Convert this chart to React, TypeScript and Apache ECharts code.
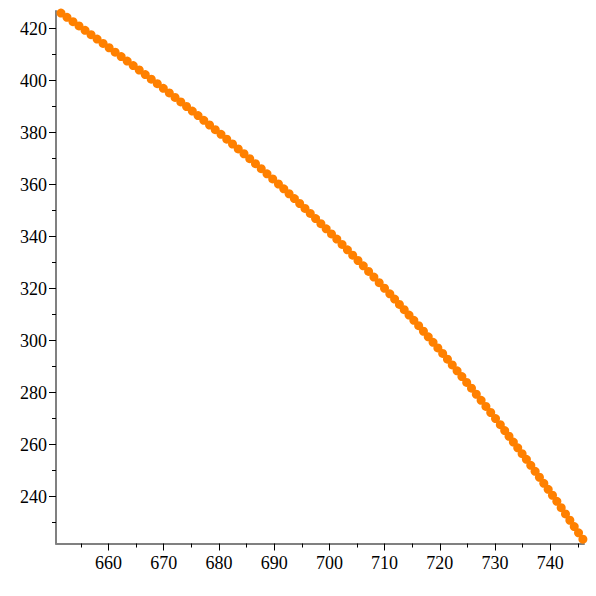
import React, { useEffect, useRef } from 'react';
import * as echarts from 'echarts';

const xValues = [
  651.40, 652.49, 653.58, 654.67, 655.76, 656.85, 657.94, 659.03, 660.12, 661.21,
  662.30, 663.39, 664.48, 665.57, 666.66, 667.75, 668.84, 669.93, 671.02, 672.06,
  673.10, 674.14, 675.18, 676.22, 677.26, 678.30, 679.34, 680.38, 681.42, 682.46,
  683.50, 684.54, 685.58, 686.62, 687.66, 688.70, 689.74, 690.78, 691.74, 692.70,
  693.66, 694.62, 695.58, 696.54, 697.50, 698.46, 699.42, 700.38, 701.34, 702.30,
  703.26, 704.22, 705.18, 706.14, 707.10, 708.06, 709.02, 709.98, 710.94, 711.81,
  712.68, 713.55, 714.42, 715.29, 716.16, 717.03, 717.90, 718.77, 719.64, 720.51,
  721.38, 722.25, 723.12, 723.99, 724.86, 725.73, 726.60, 727.47, 728.34, 729.21,
  730.08, 730.95, 731.74, 732.52, 733.31, 734.10, 734.89, 735.67, 736.46, 737.25,
  738.03, 738.82, 739.61, 740.39, 741.18, 741.97, 742.75, 743.54, 744.33, 745.11,
  745.90,
];

const yValues = [
  426.00, 424.35, 422.70, 421.04, 419.38, 417.70, 416.02, 414.34, 412.67, 410.98,
  409.26, 407.54, 405.82, 404.11, 402.36, 400.59, 398.83, 397.06, 395.29, 393.55,
  391.81, 390.07, 388.33, 386.57, 384.77, 382.96, 381.16, 379.35, 377.52, 375.64,
  373.77, 371.89, 370.02, 368.09, 366.14, 364.18, 362.23, 360.27, 358.41, 356.52,
  354.64, 352.76, 350.88, 348.95, 346.98, 345.01, 343.04, 341.07, 339.07, 337.01,
  334.96, 332.90, 330.85, 328.78, 326.63, 324.47, 322.32, 320.17, 318.02, 315.99,
  313.95, 311.91, 309.87, 307.83, 305.77, 303.63, 301.50, 299.36, 297.22, 295.09,
  292.91, 290.67, 288.43, 286.20, 283.96, 281.72, 279.41, 277.07, 274.72, 272.38,
  270.03, 267.69, 265.45, 263.25, 261.02, 258.79, 256.56, 254.36, 252.08, 249.77,
  247.48, 245.16, 242.85, 240.56, 238.22, 235.78, 233.38, 230.94, 228.50, 226.10,
  223.66,
];

const xTickValues = [660, 670, 680, 690, 700, 710, 720, 730, 740];
const xMinorTickValues = [655, 665, 675, 685, 695, 705, 715, 725, 735, 745];
const yTickValues = [240, 260, 280, 300, 320, 340, 360, 380, 400, 420];
const yMinorTickValues = [230, 250, 270, 290, 310, 330, 350, 370, 390, 410];

const X_MIN = 650.5;
const X_MAX = 746.1;
const Y_MIN = 222.0;
const Y_MAX = 426.8;

export default function App() {
  const ref = useRef<HTMLDivElement>(null);

  useEffect(() => {
    if (!ref.current) return;
    const chart = echarts.init(ref.current, null, { renderer: 'svg' });
    const font = '"Liberation Serif", "Times New Roman", serif';
    const axisLineStyle = { color: '#808080', width: 2 };
    const tickStyle = { color: '#000000', width: 1 };
    const labelStyle = { color: '#000000', fontFamily: font, fontSize: 18 };

    const data = xValues.map((x, i) => [x, yValues[i]]);

    chart.setOption({
      animation: false,
      backgroundColor: '#ffffff',
      grid: { left: 56, top: 11, right: 12, bottom: 52.5, containLabel: false },
      xAxis: [
        {
          type: 'value', min: X_MIN, max: X_MAX, position: 'bottom',
          axisLine: { show: true, onZero: false, lineStyle: axisLineStyle },
          axisTick: { show: true, inside: false, length: 7, customValues: xTickValues, lineStyle: tickStyle },
          axisLabel: { show: true, margin: 10, customValues: xTickValues, ...labelStyle },
          splitLine: { show: false },
        },
        {
          type: 'value', min: X_MIN, max: X_MAX, position: 'bottom',
          axisLine: { show: false, onZero: false },
          axisTick: { show: true, inside: false, length: 4, customValues: xMinorTickValues, lineStyle: tickStyle },
          axisLabel: { show: false },
          splitLine: { show: false },
        },
      ],
      yAxis: [
        {
          type: 'value', min: Y_MIN, max: Y_MAX, position: 'left',
          axisLine: { show: true, onZero: false, lineStyle: axisLineStyle },
          axisTick: { show: true, inside: false, length: 7, customValues: yTickValues, lineStyle: tickStyle },
          axisLabel: { show: true, margin: 9, customValues: yTickValues, ...labelStyle },
          splitLine: { show: false },
        },
        {
          type: 'value', min: Y_MIN, max: Y_MAX, position: 'left',
          axisLine: { show: false, onZero: false },
          axisTick: { show: true, inside: false, length: 4, customValues: yMinorTickValues, lineStyle: tickStyle },
          axisLabel: { show: false },
          splitLine: { show: false },
        },
      ],
      series: [
        {
          type: 'scatter',
          xAxisIndex: 0,
          yAxisIndex: 0,
          data,
          symbol: 'circle',
          symbolSize: 9,
          clip: false,
          itemStyle: { color: '#ff8000', opacity: 1 },
          z: 5,
        },
      ],
    });

    return () => chart.dispose();
  }, []);

  return (
    <div
      ref={ref}
      style={{ position: 'absolute', left: 0, top: 0, width: 596, height: 596, background: '#ffffff' }}
    />
  );
}
